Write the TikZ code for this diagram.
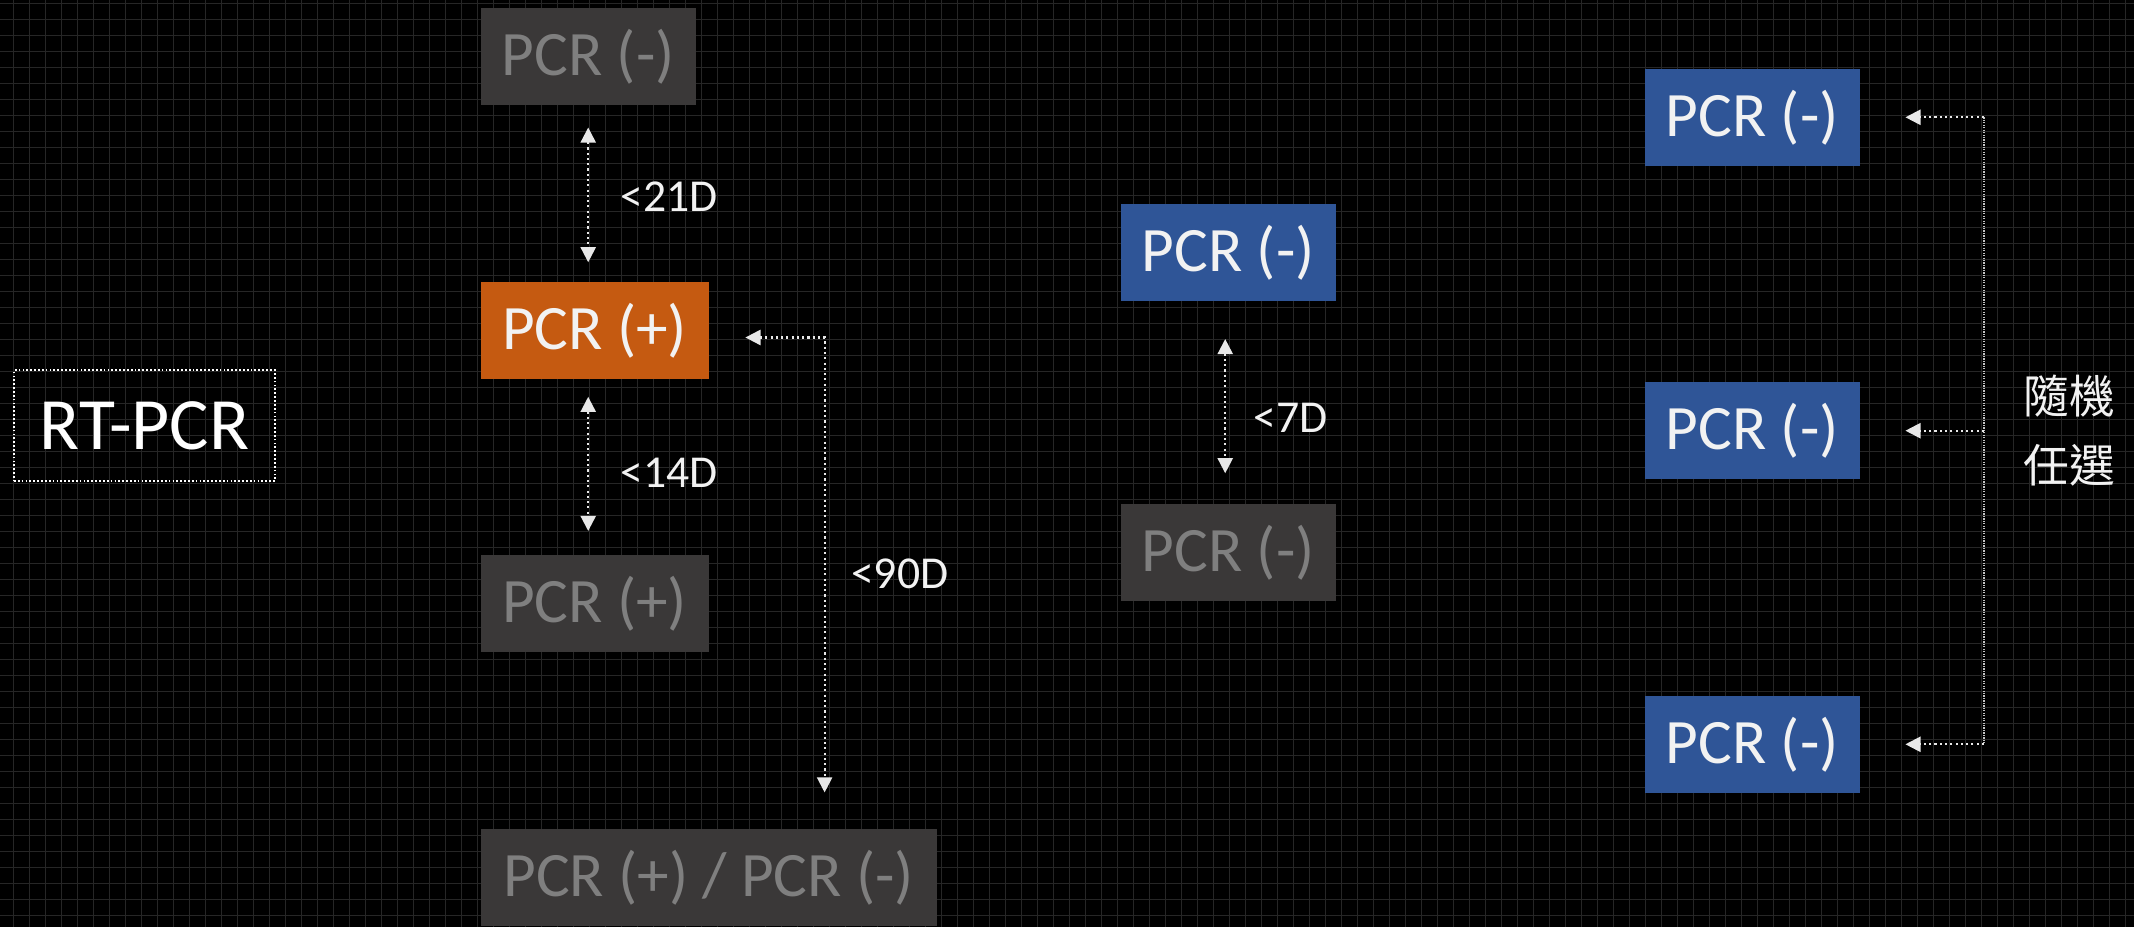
\documentclass[tikz,border=0pt]{standalone}
\usepackage{fontspec}
\setmainfont{Carlito}
\newfontfamily\cjk{Noto Sans CJK TC}
\usetikzlibrary{arrows.meta}
\definecolor{boxgray}{RGB}{58,56,56}
\definecolor{txtgray}{RGB}{127,127,127}
\definecolor{boxblue}{RGB}{47,85,151}
\definecolor{boxorange}{RGB}{197,90,17}
\definecolor{tipgray}{RGB}{232,232,232}
\definecolor{gridgray}{RGB}{38,38,38}
\tikzstyle{pcr}=[rectangle,anchor=west,minimum height=0.967cm,minimum width=2.15cm,inner sep=0pt,font=\fontsize{18}{21.6}\selectfont]
\tikzstyle{offbox}=[pcr,fill=boxgray,text=txtgray]
\tikzstyle{posbox}=[pcr,fill=boxorange,text=white!95!black]
\tikzstyle{negbox}=[pcr,fill=boxblue,text=white!95!black]
\tikzstyle{rtbox}=[rectangle,draw=white,line width=0.5pt,dash pattern=on 0.5pt off 0.6pt,minimum width=2.61cm,minimum height=1.107cm,inner sep=0pt,text=white,font=\fontsize{21}{25}\selectfont]
\tikzstyle{lbl}=[anchor=west,inner sep=0pt,text=white!95!black,font=\fontsize{13}{15.6}\selectfont]
\tikzstyle{link}=[draw=tipgray,line width=0.6pt,dash pattern=on 0.6pt off 0.9pt,>={Triangle[length=4.3pt,width=4.3pt]}]
\tikzstyle{thinlink}=[draw=tipgray!85!black,line width=0.35pt,dash pattern=on 0.35pt off 0.35pt]

\begin{document}
\begin{tikzpicture}
\useasboundingbox (0, 0) rectangle (21.34, 9.27);
\fill[black] (0, 0) rectangle (21.34, 9.27);
\foreach \i in {0,...,132} \draw[gridgray, line width=0.43pt] (0.135+0.16*\i, 0) -- (0.135+0.16*\i, 9.27);
\foreach \j in {0,...,57} \draw[gridgray, line width=0.43pt] (0, 9.235-0.16*\j) -- (21.34, 9.235-0.16*\j);

\node[rtbox] at (1.445, 5.013) (rt) {RT-PCR};

\node[offbox] at (4.80, 8.705) (neg1) {PCR (-)};
\node[posbox, minimum width=2.28cm] at (4.80, 5.967) (pos1) {PCR (+)};
\node[offbox, minimum width=2.28cm] at (4.80, 3.235) (pos2) {PCR (+)};
\node[offbox, minimum width=4.56cm] at (4.80, 0.495) (mix) {PCR (+) / PCR (-)};

\node[negbox] at (11.20, 6.746) (neg2) {PCR (-)};
\node[offbox] at (11.20, 3.747) (neg3) {PCR (-)};

\node[negbox] at (16.44, 8.097) (r1) {PCR (-)};
\node[negbox] at (16.44, 4.963) (r2) {PCR (-)};
\node[negbox] at (16.44, 1.827) (r3) {PCR (-)};

\coordinate (c90) at (8.246, 5.895);
\coordinate (bar) at (19.84, 0);

\draw[<->, link] ([yshift=-2.2mm]neg1.south) -- ([yshift=1.9mm]neg1.south |- pos1.north) node[lbl, midway, xshift=3.1mm, yshift=-0.2mm] {<21D};
\draw[<->, link] ([yshift=-1.75mm]neg1.south |- pos1.south) -- ([yshift=2.35mm]neg1.south |- pos2.north) node[lbl, midway, xshift=3.1mm, yshift=-0.9mm] {<14D};
\draw[<->, link] ([xshift=3.6mm]pos1.east |- c90) -- (c90) -- node[lbl, pos=0.52, xshift=2.55mm] {<90D} ([yshift=3.6mm]c90 |- mix.north);
\draw[<->, link] ([xshift=-0.3mm, yshift=-3.76mm]neg2.south) -- ([xshift=-0.3mm, yshift=3mm]neg2.south |- neg3.north) node[lbl, midway, xshift=2.75mm, yshift=-1.2mm] {<7D};

\draw[thinlink] (r1.east -| bar) -- (r3.east -| bar);
\draw[->, link] (r1.east -| bar) -- ([xshift=4.5mm]r1.east);
\draw[->, link] (r2.east -| bar) -- ([xshift=4.5mm]r2.east);
\draw[->, link] (r3.east -| bar) -- ([xshift=4.5mm]r3.east);
\node[lbl, align=left, font=\cjk\fontsize{13}{19.6}\selectfont] at ([xshift=3.9mm]r2.east -| bar) (pick) {隨機\\任選};

\end{tikzpicture}
\end{document}
